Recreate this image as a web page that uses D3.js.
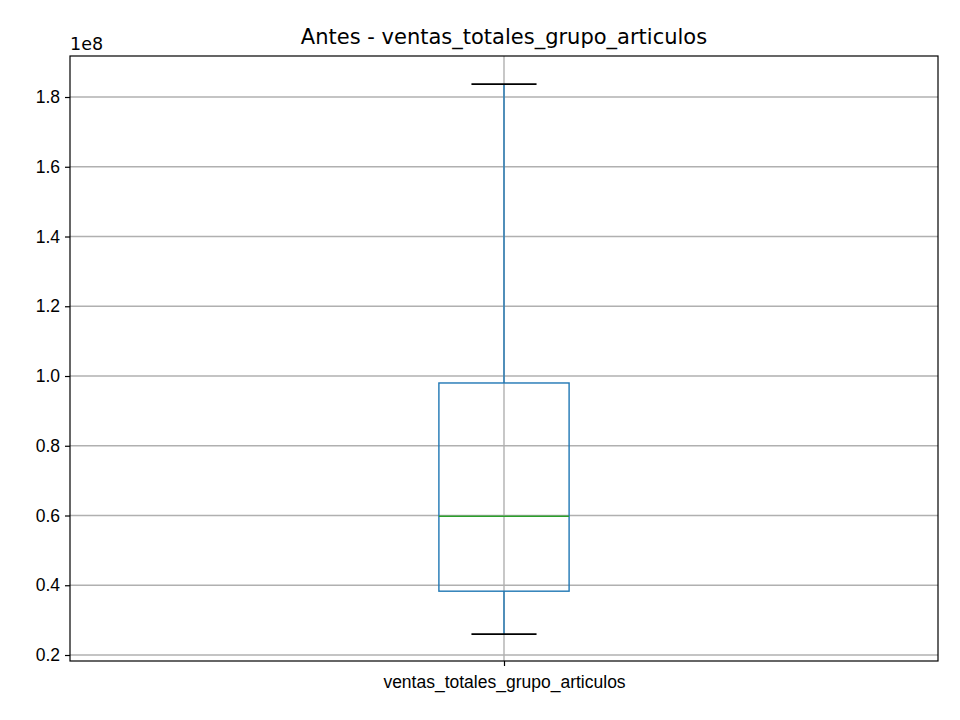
<!DOCTYPE html>
<html><head><meta charset="utf-8">
<script src="https://cdn.jsdelivr.net/npm/d3@7"></script>
<style>body{margin:0;background:#fff}svg{font-family:"DejaVu Sans",sans-serif}</style>
</head><body><svg id="c" width="960" height="720"></svg>
<script>
const categories = ["ventas_totales_grupo_articulos"];
const whiskerLow = [0.26e8];
const q1 = [0.383e8];
const median = [0.598e8];
const q3 = [0.98e8];
const whiskerHigh = [1.837e8];
const yTicks = [0.2e8,0.4e8,0.6e8,0.8e8,1.0e8,1.2e8,1.4e8,1.6e8,1.8e8];

const L=70,R=938,T=56,B=661;
const svg=d3.select("#c");
const y=d3.scaleLinear().domain([0.1828e8,1.9176e8]).range([B,T]);
const x=d3.scaleLinear().domain([0.5,1.5]).range([L,R]);
const blue="#1f77b4";
svg.append("g").selectAll("line").data(yTicks).join("line")
 .attr("x1",L).attr("x2",R).attr("y1",d=>y(d)).attr("y2",d=>y(d)).attr("stroke","#b0b0b0").attr("stroke-width",1.4);
svg.append("line").attr("x1",x(1)).attr("x2",x(1)).attr("y1",T).attr("y2",B).attr("stroke","#b0b0b0").attr("stroke-width",1.4);
const ya=svg.append("g").attr("transform",`translate(${L},0)`).call(d3.axisLeft(y).tickValues(yTicks).tickFormat(d=>(d/1e8).toFixed(1)).tickSize(5).tickPadding(5));
ya.select(".domain").remove();
const xa=svg.append("g").attr("transform",`translate(0,${B})`).call(d3.axisBottom(x).tickValues([1]).tickFormat(()=>categories[0]).tickSize(5).tickPadding(10));
xa.select(".domain").remove();
svg.selectAll(".tick text").style("font-size","17.5px").attr("fill","#000");
svg.selectAll(".tick line").attr("stroke","#000").attr("stroke-width",1.2);
svg.append("text").attr("x",L).attr("y",50).text("1e8").style("font-size","17.5px");
svg.append("text").attr("x",(L+R)/2).attr("y",44).attr("text-anchor","middle").text("Antes - "+categories[0]).style("font-size","21px");
categories.forEach((c,i)=>{
 const cx=x(i+1);
 const bx=x(0.925), bx2=x(1.075);
 svg.append("line").attr("x1",cx).attr("x2",cx).attr("y1",y(q3[i])).attr("y2",y(whiskerHigh[i])).attr("stroke",blue).attr("stroke-width",1.4);
 svg.append("line").attr("x1",cx).attr("x2",cx).attr("y1",y(q1[i])).attr("y2",y(whiskerLow[i])).attr("stroke",blue).attr("stroke-width",1.4);
 const cw=(x(1.0375)-x(1));
 [whiskerLow[i],whiskerHigh[i]].forEach(v=>svg.append("line").attr("x1",cx-cw).attr("x2",cx+cw).attr("y1",y(v)).attr("y2",y(v)).attr("stroke","#000").attr("stroke-width",1.6));
 svg.append("rect").attr("x",bx).attr("width",bx2-bx).attr("y",y(q3[i])).attr("height",y(q1[i])-y(q3[i])).attr("fill","none").attr("stroke",blue).attr("stroke-width",1.4);
 svg.append("line").attr("x1",bx).attr("x2",bx2).attr("y1",y(median[i])).attr("y2",y(median[i])).attr("stroke","#2ca02c").attr("stroke-width",1.6);
});
svg.append("rect").attr("x",L).attr("y",T).attr("width",R-L).attr("height",B-T).attr("fill","none").attr("stroke","#000").attr("stroke-width",1.2);
</script></body></html>
